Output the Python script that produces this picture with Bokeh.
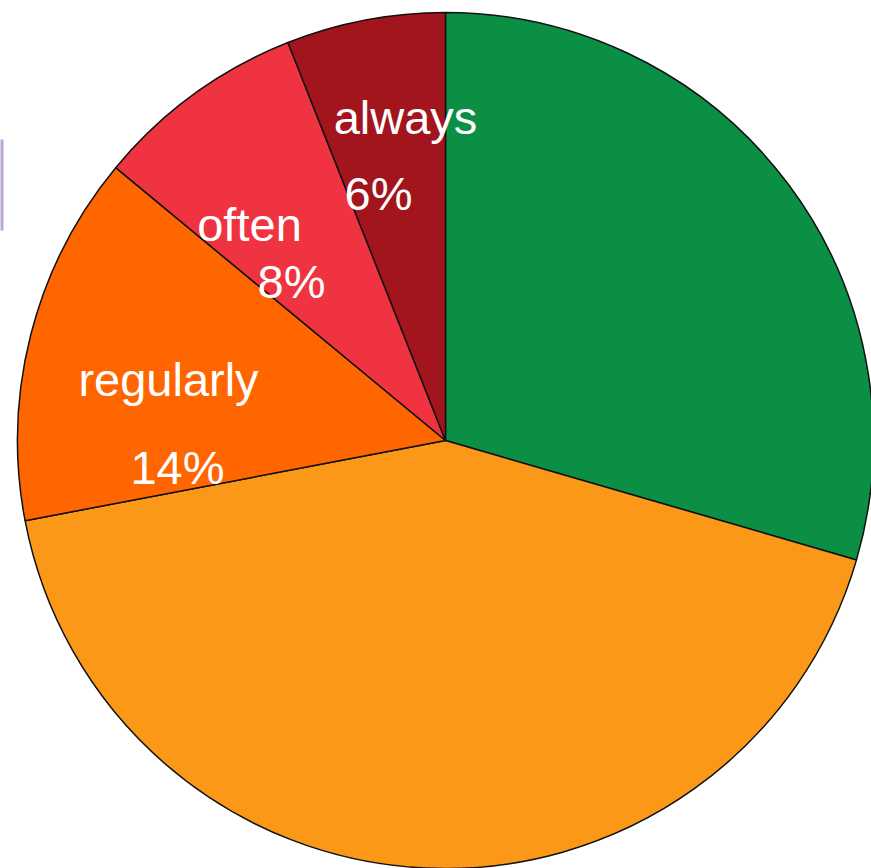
import math
from bokeh.plotting import figure
from bokeh.models import ColumnDataSource, Range1d
from bokeh.core.properties import value
from bokeh.embed import file_html
from bokeh.resources import INLINE

# ---- data ----
categories = ["never", "sometimes", "regularly", "often", "always"]
shares = [29.5, 42.5, 14.0, 8.0, 6.0]
colors = ["#0b8f44", "#fc9818", "#ff6600", "#ef3340", "#a3151c"]
label_names = ["regularly", "often", "always"]
label_pcts = ["14%", "8%", "6%"]

# ---- layout (pixels in the page, y measured from the top) ----
W, H = 871, 868
CX, CY, R = 445, 440, 428
name_pos = [(168, 395), (249, 240), (405, 133)]
pct_pos = [(177, 483), (291, 297), (378, 209)]
BASE_SHIFT = 16
FONT_SIZE = "47px"

total = sum(shares)
starts, ends = [], []
cum = 0.0
for s in shares:
    starts.append(math.pi / 2 - 2 * math.pi * cum / total)
    cum += s
    ends.append(math.pi / 2 - 2 * math.pi * cum / total)

src = ColumnDataSource(dict(cat=categories, share=shares, color=colors,
                            start=starts, end=ends,
                            x=[CX] * len(shares), y=[H - CY] * len(shares)))

p = figure(width=W, height=H, output_backend="svg", toolbar_location=None,
           x_range=Range1d(0, W), y_range=Range1d(0, H), min_border=0)
p.axis.visible = False
p.grid.visible = False
p.outline_line_color = None
p.background_fill_color = "white"

p.wedge(x="x", y="y", radius=R, start_angle="start", end_angle="end",
        direction="clock", fill_color="color", line_color="#111111",
        line_width=1.5, source=src)

# small purple edge at the left (part of a clipped box)
p.quad(left=[-2], right=[3], bottom=[H - 230], top=[H - 139],
       fill_color="#b9a8d4", line_color=None)

lab = ColumnDataSource(dict(
    text=label_names + label_pcts,
    x=[q[0] for q in name_pos] + [q[0] for q in pct_pos],
    y=[H - q[1] + BASE_SHIFT for q in name_pos] + [H - q[1] + BASE_SHIFT for q in pct_pos]))
p.text(x="x", y="y", text="text", source=lab, text_color="white",
       text_font=value("Liberation Sans"), text_font_size=FONT_SIZE,
       text_align="center", text_baseline="alphabetic")

open("out.html", "w").write(file_html(p, INLINE))
